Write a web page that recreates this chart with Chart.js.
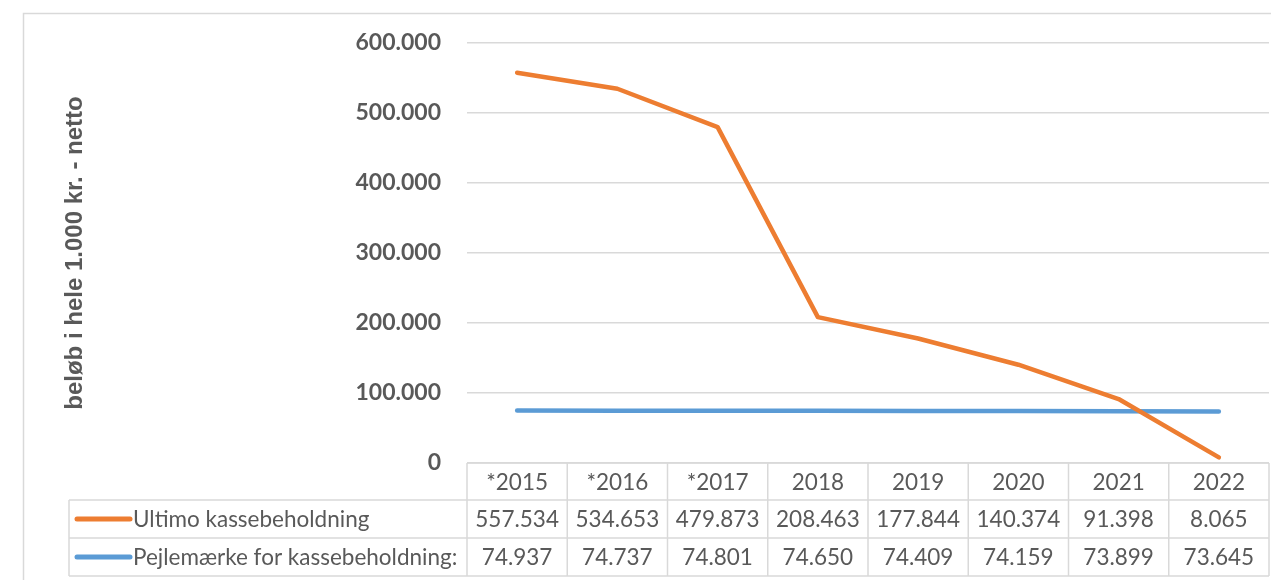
<!DOCTYPE html>
<html>
<head>
<meta charset="utf-8">
<script src="https://cdn.jsdelivr.net/npm/chart.js@4"></script>
<style>
  html, body { margin: 0; padding: 0; background: #ffffff; }
  #wrap { width: 1271px; height: 580px; position: relative; }
</style>
</head>
<body>
<div id="wrap"><canvas id="c" width="1271" height="580"></canvas></div>
<script>
const categories = ['*2015', '*2016', '*2017', '2018', '2019', '2020', '2021', '2022'];
const ultimoLabel = 'Ultimo kassebeholdning';
const ultimoValues = [557534, 534653, 479873, 208463, 177844, 140374, 91398, 8065];
const pejleLabel = 'Pejlemærke for kassebeholdning:';
const pejleValues = [74937, 74737, 74801, 74650, 74409, 74159, 73899, 73645];
const yTicks = [0, 100000, 200000, 300000, 400000, 500000, 600000];
const yTitle = 'beløb i hele 1.000 kr. - netto';

const ORANGE = '#ED7D31';
const BLUE = '#5B9BD5';
const TEXT = '#595959';
const GRID = '#d9d9d9';
const FONT = 'Lato, "Open Sans", sans-serif';
const TITLE_FONT = 'Arial, "Liberation Sans", "DejaVu Sans", sans-serif';

function fmt(v) {
  return String(Math.round(v)).replace(/\B(?=(\d{3})+(?!\d))/g, '.');
}

const tablePlugin = {
  id: 'dataTable',
  beforeDraw(chart) {
    const ctx = chart.ctx;
    ctx.save();
    ctx.strokeStyle = GRID;
    ctx.lineWidth = 1.5;
    ctx.strokeRect(23.5, 13.5, 1400, 600);
    ctx.restore();
  },
  afterDraw(chart) {
    const ctx = chart.ctx;
    const xs = chart.scales.x;
    const area = chart.chartArea;
    const n = categories.length;
    const colW = (area.right - area.left) / n;
    const tableLeft = 69;
    const top = area.bottom;
    const rowH = [37, 38, 38];
    const r0 = top, r1 = r0 + rowH[0], r2 = r1 + rowH[1], r3 = r2 + rowH[2];
    ctx.save();
    ctx.strokeStyle = GRID;
    ctx.lineWidth = 1.5;
    ctx.beginPath();
    ctx.moveTo(area.left, r0); ctx.lineTo(area.right, r0);
    ctx.moveTo(tableLeft, r1); ctx.lineTo(area.right, r1);
    ctx.moveTo(tableLeft, r2); ctx.lineTo(area.right, r2);
    ctx.moveTo(tableLeft, r3); ctx.lineTo(area.right, r3);
    for (let i = 0; i <= n; i++) {
      const x = area.left + i * colW;
      ctx.moveTo(x, r0); ctx.lineTo(x, r3);
    }
    ctx.moveTo(tableLeft, r1); ctx.lineTo(tableLeft, r3);
    ctx.stroke();

    ctx.fillStyle = TEXT;
    ctx.font = '22.5px ' + FONT;
    ctx.textAlign = 'center';
    ctx.textBaseline = 'middle';
    const rows = [ultimoValues, pejleValues];
    for (let i = 0; i < n; i++) {
      const x = xs.getPixelForValue(i);
      ctx.fillText(categories[i], x, (r0 + r1) / 2 + 1);
      ctx.fillText(fmt(rows[0][i]), x, (r1 + r2) / 2 + 1);
      ctx.fillText(fmt(rows[1][i]), x, (r2 + r3) / 2 + 1);
    }
    const keys = [[ORANGE, ultimoLabel, (r1 + r2) / 2], [BLUE, pejleLabel, (r2 + r3) / 2]];
    keys.forEach(([col, label, y]) => {
      ctx.strokeStyle = col;
      ctx.lineWidth = 5;
      ctx.lineCap = 'round';
      ctx.beginPath();
      ctx.moveTo(tableLeft + 8, y);
      ctx.lineTo(tableLeft + 61, y);
      ctx.stroke();
      ctx.textAlign = 'left';
      ctx.fillStyle = TEXT;
      ctx.fillText(label, tableLeft + 64, y + 1);
    });
    ctx.restore();
  }
};

new Chart(document.getElementById('c'), {
  type: 'line',
  data: {
    labels: categories,
    datasets: [
      { label: ultimoLabel, data: ultimoValues, borderColor: ORANGE, backgroundColor: ORANGE,
        borderWidth: 4.5, pointRadius: 0, tension: 0, borderCapStyle: 'round', borderJoinStyle: 'round' },
      { label: pejleLabel, data: pejleValues, borderColor: BLUE, backgroundColor: BLUE,
        borderWidth: 4.5, pointRadius: 0, tension: 0, borderCapStyle: 'round', borderJoinStyle: 'round' }
    ]
  },
  options: {
    responsive: false,
    animation: false,
    devicePixelRatio: 1,
    layout: { padding: { top: 43, right: 2, left: 0, bottom: 0 } },
    plugins: { legend: { display: false }, tooltip: { enabled: false } },
    scales: {
      x: {
        type: 'category',
        offset: true,
        grid: { display: false, drawTicks: false },
        border: { display: false },
        ticks: { display: false },
        afterFit(scale) { scale.height = 117; }
      },
      y: {
        min: 0, max: 600000,
        afterBuildTicks(scale) { scale.ticks = yTicks.map(v => ({ value: v })); },
        grid: { color: GRID, lineWidth: 1.5, drawTicks: false },
        border: { display: false },
        ticks: {
          padding: 26,
          color: TEXT,
          font: { family: FONT, size: 23, weight: 'bold' },
          callback: (v) => fmt(v)
        },
        title: {
          display: true,
          text: yTitle,
          color: TEXT,
          font: { family: TITLE_FONT, size: 24, weight: 'bold' },
          padding: { top: 61, bottom: 0 }
        },
        afterFit(scale) { scale.width = 467; }
      }
    }
  },
  plugins: [tablePlugin]
});
</script>
</body>
</html>
